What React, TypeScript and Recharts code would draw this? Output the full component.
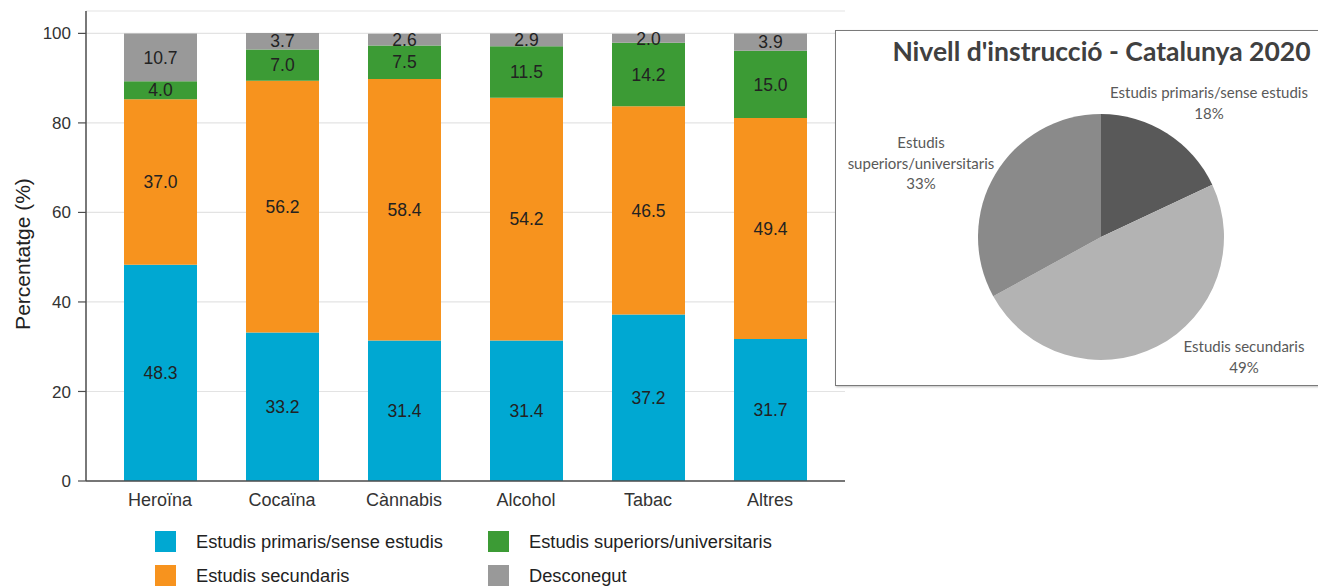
import { BarChart, Bar, XAxis, YAxis, CartesianGrid, LabelList, PieChart, Pie, Cell } from "recharts";

// ── Data ─────────────────────────────────────────────────────────────────────

const SUBSTANCES = ["Heroïna", "Cocaïna", "Cànnabis", "Alcohol", "Tabac", "Altres"];

const PRIMARIS = [48.3, 33.2, 31.4, 31.4, 37.2, 31.7];
const SECUNDARIS = [37.0, 56.2, 58.4, 54.2, 46.5, 49.4];
const SUPERIORS = [4.0, 7.0, 7.5, 11.5, 14.2, 15.0];
const DESCONEGUT = [10.7, 3.7, 2.6, 2.9, 2.0, 3.9];

const Y_TICKS = [0, 20, 40, 60, 80, 100];

const PIE_NAMES = ["Estudis primaris/sense estudis", "Estudis secundaris", "Estudis superiors/universitaris"];
const PIE_VALUES = [18, 49, 33];

// ── Styling ──────────────────────────────────────────────────────────────────

const SERIES = [
  { key: "primaris", name: "Estudis primaris/sense estudis", color: "#00a8d2" },
  { key: "secundaris", name: "Estudis secundaris", color: "#f7931e" },
  { key: "superiors", name: "Estudis superiors/universitaris", color: "#3c9b35" },
  { key: "desconegut", name: "Desconegut", color: "#999999" },
];

// legend is laid out in two columns, row by row
const LEGEND_ORDER = ["primaris", "superiors", "secundaris", "desconegut"];

const PIE_COLORS = ["#595959", "#b3b3b3", "#8a8a8a"];

// where each slice label sits relative to the pie centre, plus its line breaks
const PIE_LABELS = [
  { dx: 108, dy: -144, lines: ["Estudis primaris/sense estudis"] },
  { dx: 143, dy: 110, lines: ["Estudis secundaris"] },
  { dx: -180, dy: -94, lines: ["Estudis", "superiors/universitaris"] },
];

const ARIAL = "'Liberation Sans', Arial, sans-serif";
const CALIBRI = "Lato, 'Open Sans', sans-serif";

const barData = SUBSTANCES.map((name, i) => ({
  name,
  primaris: PRIMARIS[i],
  secundaris: SECUNDARIS[i],
  superiors: SUPERIORS[i],
  desconegut: DESCONEGUT[i],
}));

const pieData = PIE_NAMES.map((name, i) => ({ name, value: PIE_VALUES[i] }));

function PieLabel(props: any) {
  const { cx, cy, index, percent } = props;
  const pos = PIE_LABELS[index];
  const lines = [...pos.lines, `${Math.round(percent * 100)}%`];
  return (
    <text
      x={cx + pos.dx}
      y={cy + pos.dy}
      textAnchor="middle"
      fill="#595959"
      style={{ fontFamily: CALIBRI, fontSize: 15 }}
    >
      {lines.map((l, i) => (
        <tspan key={i} x={cx + pos.dx} dy={i === 0 ? 5 : 20.5}>
          {l}
        </tspan>
      ))}
    </text>
  );
}

function YLabel({ viewBox }: any) {
  const x = viewBox.x + 22;
  const y = viewBox.y + viewBox.height / 2 + 8;
  return (
    <text
      x={x}
      y={y}
      transform={`rotate(-90, ${x}, ${y})`}
      textAnchor="middle"
      dominantBaseline="central"
      fill="#222"
      style={{ fontFamily: ARIAL, fontSize: 21 }}
    >
      Percentatge (%)
    </text>
  );
}

export default function App() {
  return (
    <div
      style={{
        position: "absolute",
        left: 0,
        top: 0,
        width: 1318,
        height: 586,
        overflow: "hidden",
        background: "#fff",
      }}
    >
      {/* Stacked bars by substance */}
      <div style={{ position: "absolute", left: 0, top: 0 }}>
        <BarChart
          width={850}
          height={520}
          data={barData}
          margin={{ top: 11, right: 5, left: 0, bottom: 0 }}
          barSize={73}
        >
          <CartesianGrid vertical={false} stroke="#e3e3e3" strokeWidth={1.2} />
          <XAxis
            dataKey="name"
            padding={{ left: 13, right: 14 }}
            tickLine={false}
            tickSize={0}
            tickMargin={12}
            axisLine={{ stroke: "#4d4d4d", strokeWidth: 1.5 }}
            tick={{ fill: "#333", fontSize: 18, fontFamily: ARIAL }}
            height={39}
          />
          <YAxis
            type="number"
            domain={[0, 105]}
            ticks={Y_TICKS}
            allowDataOverflow
            width={86}
            tickSize={8}
            tickMargin={7}
            axisLine={{ stroke: "#4d4d4d", strokeWidth: 1.5 }}
            tickLine={{ stroke: "#4d4d4d", strokeWidth: 1.2 }}
            tick={{ fill: "#333", fontSize: 17, fontFamily: ARIAL }}
            label={<YLabel />}
          />
          {SERIES.map((s) => (
            <Bar key={s.key} dataKey={s.key} name={s.name} stackId="a" fill={s.color} isAnimationActive={false}>
              <LabelList
                dataKey={s.key}
                position="center"
                formatter={(v: any) => Number(v).toFixed(1)}
                style={{ fill: "#222", fontSize: 17.5, fontFamily: ARIAL }}
              />
            </Bar>
          ))}
        </BarChart>
      </div>

      {/* Legend, two columns */}
      <div
        style={{
          position: "absolute",
          left: 155,
          top: 531,
          display: "grid",
          gridTemplateColumns: "333px 300px",
          rowGap: 13,
          fontFamily: ARIAL,
          fontSize: 18.3,
          color: "#222",
        }}
      >
        {LEGEND_ORDER.map((k) => {
          const s = SERIES.find((x) => x.key === k)!;
          return (
            <div key={k} style={{ display: "flex", alignItems: "center", height: 21 }}>
              <span style={{ width: 21, height: 21, background: s.color, display: "inline-block", marginRight: 20, flex: "none" }} />
              <span style={{ whiteSpace: "nowrap" }}>{s.name}</span>
            </div>
          );
        })}
      </div>

      {/* Pie panel */}
      <div
        style={{
          position: "absolute",
          left: 835,
          top: 30,
          width: 500,
          height: 354,
          background: "#fff",
          border: "1.5px solid #7a7a7a",
          boxShadow: "1px 1px 2px rgba(0,0,0,0.25)",
        }}
      >
        <div
          style={{
            position: "absolute",
            left: 0,
            width: 483,
            top: 4,
            textAlign: "center",
            fontFamily: CALIBRI,
            fontWeight: 700,
            fontSize: 26.5,
            color: "#404040",
            whiteSpace: "nowrap",
            paddingLeft: 48,
            boxSizing: "border-box",
          }}
        >
          Nivell d'instrucció - Catalunya 2020
        </div>
        <div style={{ position: "absolute", left: 0, top: 0 }}>
          <PieChart width={483} height={354} margin={{ top: 0, right: 0, bottom: 0, left: 0 }}>
            <Pie
              data={pieData}
              dataKey="value"
              nameKey="name"
              cx={265}
              cy={206}
              outerRadius={123}
              startAngle={90}
              endAngle={-270}
              stroke="none"
              label={PieLabel}
              labelLine={false}
              isAnimationActive={false}
            >
              {pieData.map((d, i) => (
                <Cell key={d.name} fill={PIE_COLORS[i]} />
              ))}
            </Pie>
          </PieChart>
        </div>
      </div>
    </div>
  );
}
